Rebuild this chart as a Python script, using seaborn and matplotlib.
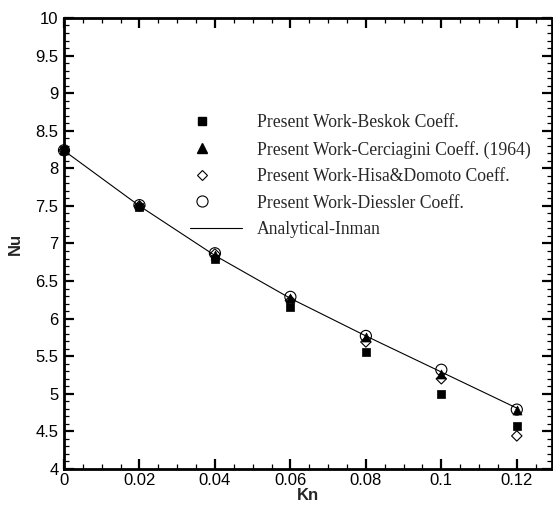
import numpy as np
import pandas as pd
import matplotlib
matplotlib.use("Agg")
import matplotlib.pyplot as plt
from matplotlib.lines import Line2D
from matplotlib.legend_handler import HandlerLine2D
from matplotlib.ticker import MultipleLocator
import seaborn as sns

# Knudsen numbers
kn = [0.0, 0.02, 0.04, 0.06, 0.08, 0.10, 0.12]

# Nusselt number for each slip coefficient model
nu_beskok = [8.24, 7.49, 6.79, 6.15, 5.55, 5.00, 4.57]
nu_cerciagini = [8.24, 7.51, 6.85, 6.27, 5.76, 5.26, 4.79]
nu_hisa = [8.24, 7.50, 6.86, 6.24, 5.69, 5.20, 4.44]
nu_diessler = [8.24, 7.51, 6.87, 6.29, 5.77, 5.32, 4.79]

# Analytical solution (Inman)
nu_inman = [8.235, 7.50, 6.84, 6.27, 5.77, 5.29, 4.81]

labels = [
    "Present Work-Beskok Coeff.",
    "Present Work-Cerciagini Coeff. (1964)",
    "Present Work-Hisa&Domoto Coeff.",
    "Present Work-Diessler Coeff.",
    "Analytical-Inman",
]


class LeftMarkerHandler(HandlerLine2D):
    """Put the single legend marker near the left end of the handle box."""

    def create_artists(self, legend, orig_handle, xdescent, ydescent,
                       width, height, fontsize, trans):
        artists = super().create_artists(legend, orig_handle, xdescent,
                                         ydescent, width, height, fontsize,
                                         trans)
        for a in artists:
            xd = np.array(a.get_xdata(), dtype=float)
            if xd.size == 3:
                xd[1] = xd[0] + 0.23 * (xd[2] - xd[0])
                a.set_xdata(xd)
            elif xd.size == 1:
                a.set_xdata([-xdescent + 0.23 * width])
        return artists


sns.set_theme(style="ticks")
plt.rcParams["font.family"] = ["Liberation Sans", "DejaVu Sans"]

fig = plt.figure(figsize=(5.53, 5.08), dpi=100)
ax = fig.add_axes([0.1157, 0.0768, 0.998 - 0.1157, 0.9646 - 0.0768])

df = pd.DataFrame({
    "Kn": kn * 4,
    "Nu": nu_beskok + nu_cerciagini + nu_hisa + nu_diessler,
    "model": sum([[lab] * len(kn) for lab in labels[:4]], []),
})
line_df = pd.DataFrame({"Kn": kn, "Nu": nu_inman})

sns.lineplot(data=line_df, x="Kn", y="Nu", ax=ax, color="black", lw=0.8,
             zorder=2, legend=False)

styles = [
    dict(marker="s", s=36, facecolor="black", edgecolor="black", linewidth=0.5),
    dict(marker="^", s=42, facecolor="black", edgecolor="black", linewidth=0.5),
    dict(marker="D", s=28, facecolor="none", edgecolor="black", linewidth=0.8),
    dict(marker="o", s=64, facecolor="none", edgecolor="black", linewidth=0.8),
]
for lab, st in zip(labels[:4], styles):
    sub = df[df["model"] == lab]
    sns.scatterplot(data=sub, x="Kn", y="Nu", ax=ax, legend=False, zorder=3,
                    clip_on=False, **st)

ax.set_xlim(0, 0.1293)
ax.set_ylim(4, 10)
ax.xaxis.set_minor_locator(MultipleLocator(0.005))
ax.yaxis.set_minor_locator(MultipleLocator(0.1))
ax.set_xticks([0, 0.02, 0.04, 0.06, 0.08, 0.1, 0.12])
ax.set_xticklabels(["0", "0.02", "0.04", "0.06", "0.08", "0.1", "0.12"])
ax.set_yticks([4, 4.5, 5, 5.5, 6, 6.5, 7, 7.5, 8, 8.5, 9, 9.5, 10])
ax.set_yticklabels(["4", "4.5", "5", "5.5", "6", "6.5", "7", "7.5", "8",
                    "8.5", "9", "9.5", "10"])

for sp in ax.spines.values():
    sp.set_visible(True)
    sp.set_linewidth(2.0)
    sp.set_color("black")

ax.tick_params(which="both", direction="in", top=True, right=True,
               colors="black", labelsize=12)
ax.tick_params(which="major", length=7, width=1.6, pad=4)
ax.tick_params(which="minor", length=3.6, width=0.9)
ax.tick_params(axis="x", which="major", pad=3)

ax.set_xlabel("Kn", fontsize=12, fontweight="bold", labelpad=0)
ax.set_ylabel("Nu", fontsize=12, fontweight="bold", labelpad=9)

handles = [
    Line2D([], [], ls="none", marker="s", ms=6, mfc="black", mec="black"),
    Line2D([], [], ls="none", marker="^", ms=6.5, mfc="black", mec="black"),
    Line2D([], [], ls="none", marker="D", ms=5.3, mfc="none", mec="black", mew=0.8),
    Line2D([], [], ls="none", marker="o", ms=8, mfc="none", mec="black", mew=0.8),
    Line2D([], [], color="black", lw=0.8),
]
ax.legend(handles, labels, loc="upper left", bbox_to_anchor=(0.258, 0.787),
          frameon=False, handlelength=2.95, handletextpad=0.85,
          labelspacing=0.54, borderaxespad=0, borderpad=0,
          handler_map={h: LeftMarkerHandler() for h in handles[:4]},
          prop={"family": "Liberation Serif", "size": 12.7})

ax.grid(False)
fig.savefig("out.png", dpi=100)
